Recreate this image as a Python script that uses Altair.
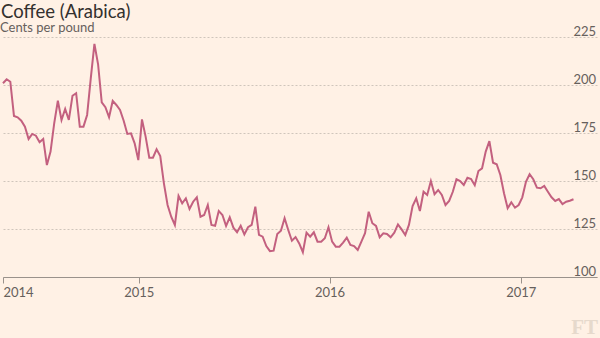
import altair as alt
import pandas as pd

TITLE = "Coffee (Arabica)"
SUBTITLE = "Cents per pound"
LOGO = "FT"

START = "2014-04-16"  # first weekly observation
VALUES = [
    200.9, 203, 201.7, 183.9, 183.2, 181.4, 178.3, 171.9, 174.5, 173.6,
    170.2, 171.9, 158.3, 165.3, 180, 191.8, 181.8, 187.5, 181.8, 194.4,
    195.7, 178.3, 178.3, 184.4, 203.5, 221.4, 210.8, 191, 188.4, 183.2,
    191.7, 189.6, 187, 181.4, 174.5, 174.8, 169.6, 160.9, 182.1, 173.1,
    162.1, 162.1, 166.5, 163, 148.8, 137.5, 131.4, 127.1, 142.2, 138.4,
    141, 135.4, 139.2, 141.5, 131.4, 132.3, 137.5, 127.1, 126.7, 134.4,
    132.3, 126.6, 131.1, 125.7, 123.3, 126.7, 122.2, 125.9, 127.1, 136.6,
    121.9, 121, 116.1, 113.5, 113.7, 122.4, 124.1, 130.6, 124.5, 118.9,
    120.8, 117.5, 112.9, 123.1, 121, 123.3, 118.4, 118.4, 120.2, 125.9,
    118.4, 115.8, 115.8, 117.9, 120.5, 116.7, 116.1, 114.1, 118.4, 122.8,
    134, 128, 126.6, 120.7, 122.8, 122.4, 120.7, 123.1, 127.4, 124.8,
    121.9, 127.1, 137, 141, 134.4, 144.4, 142.7, 150, 143.1, 145.3,
    142.7, 137.5, 139.6, 144.4, 150.9, 150, 147.9, 151.7, 151, 147.8,
    155.2, 156.6, 165.3, 170.8, 159.5, 158.7, 153.1, 143.6, 135.8, 138.9,
    136.1, 137.5, 141.5, 149.6, 153.5, 150.9, 146.5, 146.2, 147.4, 144.4,
    141.5, 139.6, 140.6, 138, 139.2, 139.7, 140.5,
]
Y_TICKS = [100, 125, 150, 175, 200, 225]

DATES = pd.date_range(START, periods=len(VALUES), freq="7D").strftime("%Y-%m-%d")
df = pd.DataFrame({"date": DATES, "price": VALUES})

FONT = "Lato"
BG = "#fff1e5"
LINE = "#c3607f"
LABEL = "#66605c"

x_values = [
    alt.DateTime(year=2014, month=4, date=16, utc=True),
    alt.DateTime(year=2015, month=1, date=1, utc=True),
    alt.DateTime(year=2016, month=1, date=1, utc=True),
    alt.DateTime(year=2017, month=1, date=1, utc=True),
]

line = alt.Chart(df).mark_line(color=LINE, strokeWidth=2).encode(
    x=alt.X(
        "date:T",
        scale=alt.Scale(
            type="utc",
            domain=[
                alt.DateTime(year=2014, month=4, date=16, utc=True),
                alt.DateTime(year=2017, month=5, date=27, utc=True),
            ],
        ),
        axis=alt.Axis(
            title=None,
            values=x_values,
            labelExpr="utcFormat(datum.value, '%Y')",
            grid=False,
            domain=True,
            domainColor="#9a928b",
            ticks=True,
            tickSize=6,
            tickColor="#9a928b",
            labelPadding=3,
            labelFont=FONT,
            labelFontSize=13,
            labelColor=LABEL,
            labelFlush=True,
            labelOverlap=False,
        ),
    ),
    y=alt.Y(
        "price:Q",
        scale=alt.Scale(domain=[100, 225], nice=False, zero=False),
        axis=alt.Axis(
            title=None,
            orient="right",
            values=Y_TICKS,
            grid=True,
            gridDash=[2, 2],
            gridColor="#cfc5bb",
            domain=False,
            ticks=False,
            tickSize=0,
            labelAlign="right",
            labelBaseline="alphabetic",
            labelPadding=-1.5,
            labelOffset=-2,
            labelFont=FONT,
            labelFontSize=13,
            labelColor=LABEL,
        ),
    ),
)

title = alt.Chart(pd.DataFrame({"t": [TITLE]})).mark_text(
    align="left", baseline="alphabetic", font=FONT, fontSize=18.5, color="#33302e"
).encode(text="t:N", x=alt.value(-2), y=alt.value(-19))

subtitle = alt.Chart(pd.DataFrame({"t": [SUBTITLE]})).mark_text(
    align="left", baseline="alphabetic", font=FONT, fontSize=13, color=LABEL
).encode(text="t:N", x=alt.value(-3), y=alt.value(-5))

logo = alt.Chart(pd.DataFrame({"t": [LOGO]})).mark_text(
    align="right", baseline="alphabetic", font="Liberation Serif", fontWeight="bold",
    fontSize=21, color="#e6d9cc"
).encode(text="t:N", x=alt.value(595), y=alt.value(297))

chart = alt.layer(line, title, subtitle, logo).properties(
    width=594,
    height=240,
    padding={"left": 3, "top": 37, "right": 3, "bottom": 61},
    autosize=alt.AutoSizeParams(type="none"),
    background=BG,
).configure_view(stroke=None)

chart.save("out.html", embed_options={"renderer": "svg", "actions": False})
